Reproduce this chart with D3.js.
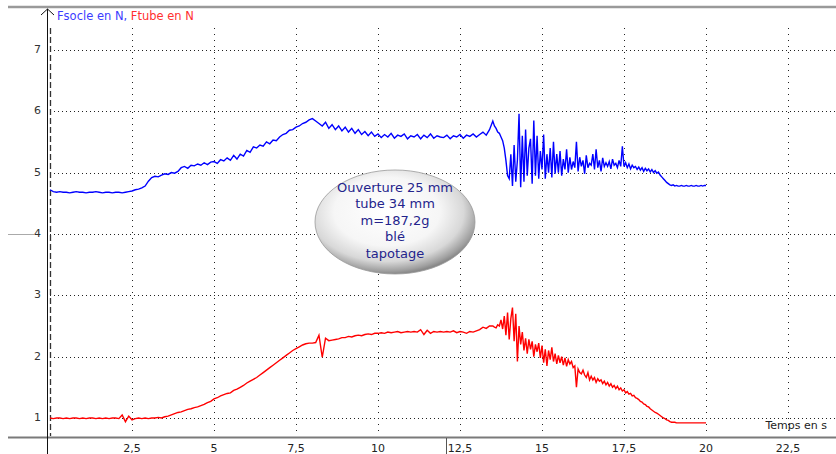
<!DOCTYPE html>
<html>
<head>
<meta charset="utf-8">
<script src="https://cdn.jsdelivr.net/npm/d3@7"></script>
<style>
  body { margin: 0; background: #fff; }
  svg { display: block; font-family: "DejaVu Sans", Verdana, sans-serif; }
</style>
</head>
<body>
<div class="chart"></div>
<script>
// acquisition : 0,1 s entre points jusqu'a 13,4 s, puis 0,05 s de 13,5 a 20 s
const pasA = 0.1
const debutB = 13.5, pasB = 0.05

// Fsocle en N (bleu), 0 -> 13,4 s
const fSocleA = [
  4.72, 4.69, 4.68, 4.69, 4.68, 4.68, 4.67, 4.68, 4.69, 4.68,
  4.68, 4.67, 4.68, 4.68, 4.69, 4.68, 4.67, 4.68, 4.68, 4.67,
  4.68, 4.68, 4.67, 4.68, 4.69, 4.70, 4.72, 4.73, 4.75, 4.78,
  4.86, 4.92, 4.94, 4.93, 4.96, 4.98, 4.97, 5.00, 4.99, 5.02,
  5.08, 5.10, 5.07, 5.12, 5.11, 5.14, 5.12, 5.16, 5.13, 5.17,
  5.18, 5.15, 5.21, 5.19, 5.24, 5.20, 5.28, 5.22, 5.30, 5.27,
  5.36, 5.33, 5.42, 5.40, 5.45, 5.43, 5.50, 5.47, 5.53, 5.52,
  5.58, 5.62, 5.64, 5.69, 5.70, 5.74, 5.76, 5.80, 5.82, 5.86,
  5.88, 5.84, 5.80, 5.76, 5.82, 5.72, 5.78, 5.70, 5.76, 5.68,
  5.74, 5.66, 5.72, 5.64, 5.70, 5.62, 5.67, 5.60, 5.66, 5.59,
  5.63, 5.57, 5.62, 5.58, 5.64, 5.56, 5.61, 5.59, 5.63, 5.55,
  5.60, 5.58, 5.62, 5.55, 5.61, 5.57, 5.63, 5.56, 5.60, 5.58,
  5.57, 5.61, 5.55, 5.60, 5.58, 5.62, 5.56, 5.61, 5.59, 5.63,
  5.58, 5.62, 5.66, 5.61, 5.70
]
// Fsocle en N (bleu), 13,5 -> 20 s
const fSocleB = [
  5.84, 5.76, 5.72, 5.66, 5.64, 5.58, 5.52, 5.40, 5.20, 4.95,
  4.90, 5.30, 4.78, 5.45, 4.85, 5.20, 5.96, 4.76, 5.60, 4.85,
  5.70, 4.95, 5.40, 5.55, 4.82, 5.85, 4.95, 5.60, 4.90, 5.35,
  5.05, 5.62, 4.90, 5.30, 5.00, 5.40, 4.92, 5.50, 4.98, 5.30,
  5.00, 5.35, 4.95, 5.22, 5.05, 5.38, 5.00, 5.25, 5.05, 5.18,
  5.08, 5.50, 5.02, 5.25, 5.10, 5.20, 4.98, 5.28, 5.08, 5.15,
  5.12, 5.30, 5.05, 5.38, 5.08, 5.20, 5.02, 5.24, 5.10, 5.16,
  5.10, 5.18, 5.06, 5.22, 5.12, 5.15, 5.08, 5.20, 5.10, 5.43,
  5.10, 5.16, 5.08, 5.14, 5.06, 5.12, 5.08, 5.10, 5.05, 5.09,
  5.04, 5.08, 5.02, 5.07, 5.03, 5.06, 5.01, 5.05, 5.00, 5.03,
  4.99, 5.01, 4.96, 4.93, 4.90, 4.87, 4.84, 4.82, 4.80, 4.79,
  4.80, 4.78, 4.79, 4.78, 4.78, 4.79, 4.78, 4.78, 4.79, 4.78,
  4.78, 4.79, 4.78, 4.78, 4.79, 4.78, 4.78, 4.79, 4.78, 4.79,
  4.79
]

// Ftube en N (rouge), 0 -> 13,4 s
const fTubeA = [
  1.00, 0.99, 1.00, 1.00, 0.99, 1.00, 0.99, 1.00, 1.00, 0.99,
  1.00, 0.99, 1.00, 1.00, 0.99, 1.00, 0.99, 1.00, 0.99, 1.00,
  1.00, 0.99, 1.05, 0.94, 1.03, 0.97, 0.99, 1.00, 0.99, 1.00,
  0.99, 1.00, 1.00, 1.01, 1.00, 1.02, 1.03, 1.05, 1.07, 1.09,
  1.10, 1.12, 1.14, 1.15, 1.17, 1.18, 1.20, 1.22, 1.25, 1.27,
  1.31, 1.33, 1.36, 1.38, 1.40, 1.41, 1.45, 1.47, 1.50, 1.53,
  1.57, 1.60, 1.63, 1.66, 1.70, 1.74, 1.78, 1.82, 1.86, 1.90,
  1.94, 1.98, 2.02, 2.06, 2.10, 2.13, 2.16, 2.19, 2.21, 2.22,
  2.22, 2.23, 2.35, 1.99, 2.30, 2.26, 2.27, 2.28, 2.29, 2.31,
  2.31, 2.33, 2.32, 2.34, 2.35, 2.34, 2.36, 2.37, 2.36, 2.38,
  2.38, 2.39, 2.38, 2.40, 2.39, 2.40, 2.41, 2.39, 2.40, 2.41,
  2.40, 2.41, 2.40, 2.44, 2.36, 2.43, 2.38, 2.41, 2.40, 2.41,
  2.40, 2.41, 2.40, 2.42, 2.39, 2.41, 2.40, 2.38, 2.41, 2.40,
  2.42, 2.44, 2.48, 2.46, 2.50
]
// Ftube en N (rouge), 13,5 -> 20 s
const fTubeB = [
  2.50, 2.48, 2.47, 2.52, 2.50, 2.60, 2.45, 2.66, 2.35, 2.72,
  2.28, 2.62, 2.80, 2.25, 2.70, 1.92, 2.50, 2.20, 2.40, 2.10,
  2.30, 2.05, 2.28, 2.12, 2.25, 2.00, 2.20, 2.08, 2.22, 1.98,
  2.18, 1.90, 2.12, 1.85, 2.10, 1.95, 2.15, 1.92, 2.05, 1.88,
  2.02, 1.90, 2.00, 1.86, 1.98, 1.84, 1.95, 1.88, 1.92, 1.82,
  1.85, 1.50, 1.80, 1.74, 1.72, 1.78, 1.70, 1.66, 1.74, 1.62,
  1.68, 1.62, 1.66, 1.58, 1.64, 1.60, 1.62, 1.56, 1.60, 1.54,
  1.58, 1.52, 1.56, 1.50, 1.53, 1.48, 1.52, 1.46, 1.49, 1.44,
  1.46, 1.41, 1.43, 1.39, 1.40, 1.36, 1.37, 1.33, 1.32, 1.30,
  1.27, 1.26, 1.23, 1.22, 1.19, 1.18, 1.15, 1.13, 1.11, 1.09,
  1.08, 1.06, 1.04, 1.02, 1.00, 0.99, 0.97, 0.96, 0.94, 0.93,
  0.93, 0.93, 0.92, 0.92, 0.92, 0.92, 0.92, 0.92, 0.92, 0.92,
  0.92, 0.92, 0.92, 0.92, 0.92, 0.92, 0.92, 0.92, 0.92, 0.92,
  0.92
]

const xTicks = [2.5, 5, 7.5, 10, 12.5, 15, 17.5, 20, 22.5]
const yTicks = [1, 2, 3, 4, 5, 6, 7]
const noteLines = ["Ouverture 25 mm", "tube 34 mm", "m=187,2g", "blé", "tapotage"]

const toPoints = (a, b) => a.map((v, i) => [i * pasA, v])
  .concat(b.map((v, i) => [debutB + i * pasB, v]))
const socle = toPoints(fSocleA, fSocleB)
const tube = toPoints(fTubeA, fTubeB)

const W = 836, H = 454
const svg = d3.select(".chart").append("svg").attr("width", W).attr("height", H)

const x = d3.scaleLinear().domain([0, 24]).range([50, 50 + 24 * 32.8])
const y = d3.scaleLinear().domain([0.69, 7.65]).range([437, 10])
const fmt = d => String(d).replace(".", ",")

// grille pointillee
svg.selectAll(".hgrid").data(yTicks).join("line")
  .attr("class", "hgrid")
  .attr("x1", 50).attr("x2", W)
  .attr("y1", d => Math.round(y(d)) + 0.5).attr("y2", d => Math.round(y(d)) + 0.5)
  .attr("stroke", "#222").attr("stroke-dasharray", "1,3")

svg.selectAll(".vgrid").data(xTicks).join("line")
  .attr("class", "vgrid")
  .attr("x1", d => Math.round(x(d)) + 0.5).attr("x2", d => Math.round(x(d)) + 0.5)
  .attr("y1", 28).attr("y2", 435)
  .attr("stroke", "#222").attr("stroke-dasharray", "1,5")

// ligne t = 0 en tirets
svg.append("line")
  .attr("x1", x(0) + 0.5).attr("x2", x(0) + 0.5)
  .attr("y1", 28).attr("y2", 436)
  .attr("stroke", "#333").attr("stroke-width", 1.3).attr("stroke-dasharray", "6,3")

// bordures grises
svg.append("line").attr("x1", 8).attr("x2", W).attr("y1", 7).attr("y2", 7)
  .attr("stroke", "#9a9a9a").attr("stroke-width", 2.5)
svg.append("line").attr("x1", 8).attr("x2", W).attr("y1", 437.5).attr("y2", 437.5)
  .attr("stroke", "#7a7a7a").attr("stroke-width", 2)
svg.append("line").attr("x1", 8).attr("x2", 34).attr("y1", Math.round(y(4)) + 0.5).attr("y2", Math.round(y(4)) + 0.5)
  .attr("stroke", "#aaa")
svg.append("line").attr("x1", 446.5).attr("x2", 446.5).attr("y1", 438).attr("y2", H)
  .attr("stroke", "#555")

// axe vertical avec fleche
svg.append("line").attr("x1", 47.5).attr("x2", 47.5).attr("y1", 9).attr("y2", H)
  .attr("stroke", "#111")
svg.append("path").attr("d", "M41,15L47.5,9L54,15")
  .attr("fill", "none").attr("stroke", "#111")

// graduations
svg.selectAll(".ylab").data(yTicks).join("text")
  .attr("class", "ylab")
  .attr("x", 41).attr("y", d => y(d))
  .attr("text-anchor", "end").attr("dominant-baseline", "middle")
  .attr("font-size", 11).attr("fill", "#333")
  .text(d => d)

svg.selectAll(".xlab").data(xTicks).join("text")
  .attr("class", "xlab")
  .attr("x", d => x(d)).attr("y", 452)
  .attr("text-anchor", "middle")
  .attr("font-size", 11).attr("fill", "#222")
  .text(fmt)

svg.append("text").attr("x", 827).attr("y", 429)
  .attr("text-anchor", "end").attr("font-size", 11).attr("fill", "#222")
  .text("Temps en s")

const title = svg.append("text").attr("x", 57).attr("y", 20).attr("font-size", 11.5)
title.append("tspan").attr("fill", "#3c3cff").text("Fsocle en N, ")
title.append("tspan").attr("fill", "#ff3030").text("Ftube en N")

// courbes
const line = d3.line()
  .x(d => x(d[0]))
  .y(d => y(d[1]))

svg.append("path").datum(socle)
  .attr("d", line).attr("fill", "none")
  .attr("stroke", "#0000ff").attr("stroke-width", 1.4)

svg.append("path").datum(tube)
  .attr("d", line).attr("fill", "none")
  .attr("stroke", "#ff0000").attr("stroke-width", 1.4)

// etiquette ovale
const defs = svg.append("defs")
const grad = defs.append("radialGradient").attr("id", "bulle")
  .attr("cx", "45%").attr("cy", "40%").attr("r", "60%")
grad.selectAll("stop").data([[0, "#ffffff"], [0.55, "#f6f6f6"], [0.8, "#d8d8d8"], [0.95, "#a0a0a0"], [1, "#888"]])
  .join("stop")
  .attr("offset", d => d[0]).attr("stop-color", d => d[1])

const note = svg.append("g").attr("transform", "translate(395,222)")
note.append("ellipse").attr("rx", 80).attr("ry", 52)
  .attr("fill", "url(#bulle)").attr("stroke", "#999").attr("stroke-width", 0.8)
note.selectAll("text").data(noteLines).join("text")
  .attr("x", 0).attr("y", (d, i) => (i - 2) * 16.5 - 1)
  .attr("text-anchor", "middle").attr("dominant-baseline", "middle")
  .attr("font-size", 13).attr("fill", "#24248c")
  .text(d => d)
</script>
</body>
</html>
